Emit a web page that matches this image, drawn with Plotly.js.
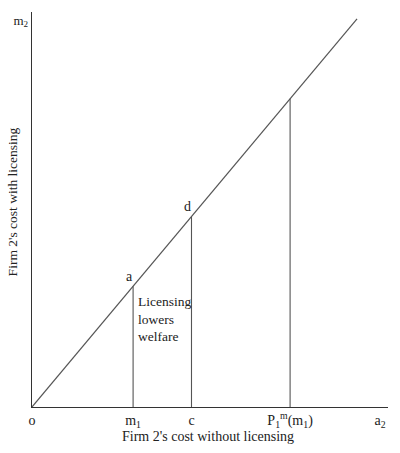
<!DOCTYPE html>
<html>
<head>
<meta charset="utf-8">
<script src="https://cdn.plot.ly/plotly-3.0.1.min.js"></script>
<style>
  html, body { margin: 0; padding: 0; background: #fff; }
  #plot { width: 400px; height: 453px; }
</style>
</head>
<body>
<div id="plot"></div>
<script>
// diagonal: firm 2's cost with licensing = cost without licensing
const diagX = [0, 9.13];
const diagY = [0, 9.13];

// drop lines from the diagonal
const dropNames = ['m1', 'c', 'P1m(m1)'];
const dropX = [2.84, 4.48, 7.25];

// axis tick labels
const xTickVals = [0, 2.84, 4.48, 7.25, 9.78];
const xTickText = ['o', 'm<sub>1</sub>', 'c', 'P<sub>1</sub><sup>m</sup>(m<sub>1</sub>)', 'a<sub>2</sub>'];
const yTickVals = [9.1];
const yTickText = ['m<sub>2</sub>'];

// point labels on the diagonal
const pointLabels = ['a', 'd'];
const pointX = [2.84, 4.48];

const serif = 'Liberation Serif, Times New Roman, serif';
const ink = '#222';

const traces = [{
  x: diagX, y: diagY, type: 'scatter', mode: 'lines',
  line: { color: '#555', width: 1.2 }, hoverinfo: 'skip', showlegend: false
}];

dropX.forEach((v, i) => {
  traces.push({
    x: [v, v], y: [0, v], type: 'scatter', mode: 'lines', name: dropNames[i],
    line: { color: '#555', width: 1.1 }, hoverinfo: 'skip', showlegend: false
  });
});

const annotations = pointLabels.map((t, i) => ({
  x: pointX[i], y: pointX[i], text: t, showarrow: false,
  xshift: -4, yshift: 10, font: { family: serif, size: 14, color: ink }
}));

annotations.push({
  x: 2.93, y: 2.07, xanchor: 'left', yanchor: 'middle', align: 'left',
  text: '<span style="line-height:0.9">Licensing</span><br>lowers<br>welfare', showarrow: false,
  font: { family: serif, size: 13.5, color: ink }
});
annotations.push({
  xref: 'paper', yref: 'paper', x: 0.495, y: -0.075, xanchor: 'center', yanchor: 'middle',
  text: "Firm 2's cost without licensing", showarrow: false,
  font: { family: serif, size: 14, color: ink }
});
annotations.push({
  xref: 'paper', yref: 'paper', x: -0.054, y: 0.52, xanchor: 'center', yanchor: 'middle',
  text: "Firm 2's cost with licensing", textangle: -90, showarrow: false,
  font: { family: serif, size: 13.5, color: ink }
});

const layout = {
  width: 400, height: 453,
  margin: { l: 32, r: 12, t: 12, b: 46 },
  paper_bgcolor: '#fff', plot_bgcolor: '#fff',
  showlegend: false,
  xaxis: {
    range: [0, 10], showgrid: false, zeroline: false,
    showline: true, linecolor: '#333', linewidth: 1.3,
    tickmode: 'array', tickvals: xTickVals, ticktext: xTickText,
    ticks: '', automargin: false,
    tickfont: { family: serif, size: 14, color: ink }
  },
  yaxis: {
    range: [0, 9.29], showgrid: false, zeroline: false,
    showline: true, linecolor: '#333', linewidth: 1.3,
    tickmode: 'array', tickvals: yTickVals, ticktext: yTickText,
    ticks: '', automargin: false,
    tickfont: { family: serif, size: 13, color: ink }
  },
  annotations: annotations
};

Plotly.newPlot('plot', traces, layout, { staticPlot: true });
</script>
</body>
</html>
